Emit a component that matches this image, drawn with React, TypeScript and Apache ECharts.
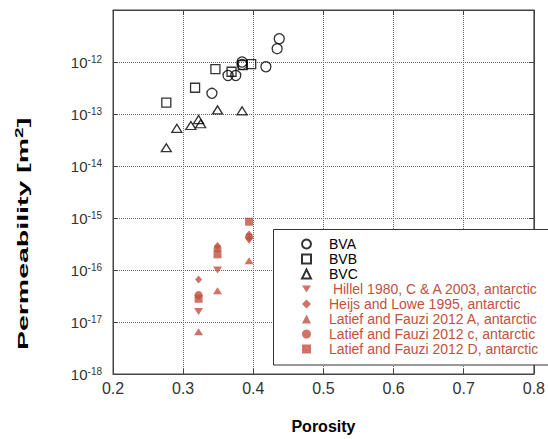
import React, { useEffect, useRef } from "react";
import * as echarts from "echarts";

// ---- data ----
const bvaPorosity = [0.437, 0.434, 0.384, 0.384, 0.418, 0.364, 0.375, 0.341];
const bvaPerm = [2.8e-12, 1.8e-12, 1.0e-12, 9.0e-13, 8.1e-13, 5.5e-13, 5.5e-13, 2.5e-13];

const bvbPorosity = [0.397, 0.385, 0.369, 0.346, 0.317, 0.276];
const bvbPerm = [9.1e-13, 8.7e-13, 6.5e-13, 7.3e-13, 3.2e-13, 1.65e-13];

const bvcPorosity = [0.349, 0.384, 0.322, 0.325, 0.311, 0.291, 0.276];
const bvcPerm = [1.2e-13, 1.15e-13, 7.8e-14, 6.5e-14, 6.0e-14, 5.3e-14, 2.25e-14];

const redPorosity = [0.322, 0.349, 0.394];
const hillelPerm = [1.6e-17, 1.0e-16, 3.7e-16];
const heijsPerm = [6.6e-17, 2.9e-16, 4.8e-16];
const latiefAPerm = [6.5e-18, 4.0e-17, 1.5e-16];
const latiefCPerm = [3.3e-17, 2.6e-16, 4.3e-16];
const latiefDPerm = [2.8e-17, 2.0e-16, 8.5e-16];

const seriesNames = [
  "BVA",
  "BVB",
  "BVC",
  " Hillel 1980, C & A 2003, antarctic",
  "Heijs and Lowe 1995, antarctic",
  "Latief and Fauzi 2012 A, antarctic",
  "Latief and Fauzi 2012 c, antarctic",
  "Latief and Fauzi 2012 D, antarctic",
];

const xTickMin = 0.2;
const xTickMax = 0.8;
const yMin = 1e-18;
const yMax = 1e-11;

const RED = "#c2503e";
const FONT = "'Liberation Sans', Arial, Helvetica, sans-serif";

const zip = (xs: number[], ys: number[]) => xs.map((x, i) => [x, ys[i]]);

export default function App() {
  const ref = useRef<HTMLDivElement>(null);

  useEffect(() => {
    if (!ref.current) return;
    const chart = echarts.init(ref.current, undefined, { renderer: "svg" });

    const hollow = (name: string, symbol: string, size: any, xs: number[], ys: number[]) => ({
      name,
      type: "scatter",
      symbol,
      symbolSize: size,
      data: zip(xs, ys),
      itemStyle: { color: "rgba(0,0,0,0)", borderColor: "#000", borderWidth: 1.3 },
      z: 3,
    });
    const filled = (name: string, symbol: string, size: any, ys: number[], rotate = 0) => ({
      name,
      type: "scatter",
      symbol,
      symbolSize: size,
      symbolRotate: rotate,
      data: zip(redPorosity, ys),
      itemStyle: { color: RED },
      z: 3,
    });

    const gridLine = { show: true, lineStyle: { color: "#666", type: [1, 1] as any, width: 1 } };
    const axLine = { show: true, lineStyle: { color: "#444", width: 1 } };
    const tick = { show: true, inside: true, length: 5, lineStyle: { color: "#444" } };

    chart.setOption({
      animation: false,
      backgroundColor: "#fff",
      textStyle: { fontFamily: FONT },
      grid: { left: 113, right: 10, top: 10, bottom: 63, show: true, borderColor: "#444", borderWidth: 1 },
      xAxis: [
        {
          type: "value",
          min: xTickMin,
          max: xTickMax,
          interval: 0.1,
          axisLine: axLine,
          axisTick: tick,
          splitLine: gridLine,
          axisLabel: {
            fontSize: 16,
            color: "#333",
            margin: 6,
            fontFamily: FONT,
            formatter: (v: number) => v.toFixed(1),
          },
          name: "Porosity",
          nameLocation: "middle",
          nameGap: 44,
          nameTextStyle: { fontSize: 16, fontWeight: "bold", color: "#000", fontFamily: FONT },
        },
        {
          type: "value",
          position: "top",
          min: xTickMin,
          max: xTickMax,
          interval: 0.1,
          axisLine: axLine,
          axisTick: tick,
          splitLine: { show: false },
          axisLabel: { show: false },
        },
      ],
      yAxis: [
        {
          type: "log",
          logBase: 10,
          min: yMin,
          max: yMax,
          splitNumber: 7,
          axisLine: axLine,
          axisTick: tick,
          splitLine: gridLine,
          axisLabel: {
            margin: 11,
            color: "#333",
            formatter: (v: number) => {
              const e = Math.round(Math.log10(v));
              if (e === -11) return "";
              return `{n|10}{s|${e}}`;
            },
            rich: {
              n: { fontSize: 15, lineHeight: 16, color: "#333", fontFamily: FONT, verticalAlign: "middle" },
              s: { fontSize: 10, lineHeight: 12, color: "#333", fontFamily: FONT, verticalAlign: "top" },
            },
          },
        },
        {
          type: "log",
          logBase: 10,
          position: "right",
          min: yMin,
          max: yMax,
          splitNumber: 7,
          axisLine: axLine,
          axisTick: tick,
          splitLine: { show: false },
          axisLabel: { show: false },
        },
      ],
      legend: {
        orient: "vertical",
        left: 301,
        top: 236.5,
        padding: 0,
        itemWidth: 9,
        itemHeight: 9,
        itemGap: 0,
        textStyle: { fontSize: 14, lineHeight: 15, fontFamily: FONT, color: "#000", padding: [0, 0, 0, 13] },
        data: seriesNames.map((n, i) => ({
          name: n,
          textStyle: { color: i < 3 ? "#000" : RED },
          ...(i === 3 ? { icon: "path://M0,0L10,0L5,8Z" } : {}),
        })),
      },
      graphic: [
        {
          type: "rect",
          z: 2,
          shape: { x: 273.5, y: 229.5, width: 300, height: 135.5 },
          style: { fill: "#fff", stroke: "#333", lineWidth: 1 },
        },
        {
          type: "text",
          x: 23,
          y: 234,
          rotation: Math.PI / 2,
          scaleX: 1.9,
          style: {
            text: "{a|Permeability [m}{s|2}{a|]}",
            textAlign: "center",
            textVerticalAlign: "middle",
            rich: {
              a: { fontSize: 15, fontWeight: "bold", fontFamily: FONT, fill: "#000", lineHeight: 18, verticalAlign: "middle" },
              s: { fontSize: 10, fontWeight: "bold", fontFamily: FONT, fill: "#000", lineHeight: 10, verticalAlign: "top" },
            },
          },
        },
      ],
      series: [
        hollow(seriesNames[0], "circle", 10, bvaPorosity, bvaPerm),
        hollow(seriesNames[1], "rect", 9, bvbPorosity, bvbPerm),
        hollow(seriesNames[2], "triangle", [10, 8], bvcPorosity, bvcPerm),
        filled(seriesNames[3], "triangle", [9, 7], hillelPerm, 180),
        filled(seriesNames[4], "diamond", [7, 8], heijsPerm),
        filled(seriesNames[5], "triangle", [9, 7], latiefAPerm),
        filled(seriesNames[6], "circle", 8, latiefCPerm),
        filled(seriesNames[7], "rect", 8, latiefDPerm),
      ],
    });

    return () => chart.dispose();
  }, []);

  return (
    <div
      ref={ref}
      style={{ position: "fixed", left: 0, top: 0, width: 548, height: 439 }}
    />
  );
}
